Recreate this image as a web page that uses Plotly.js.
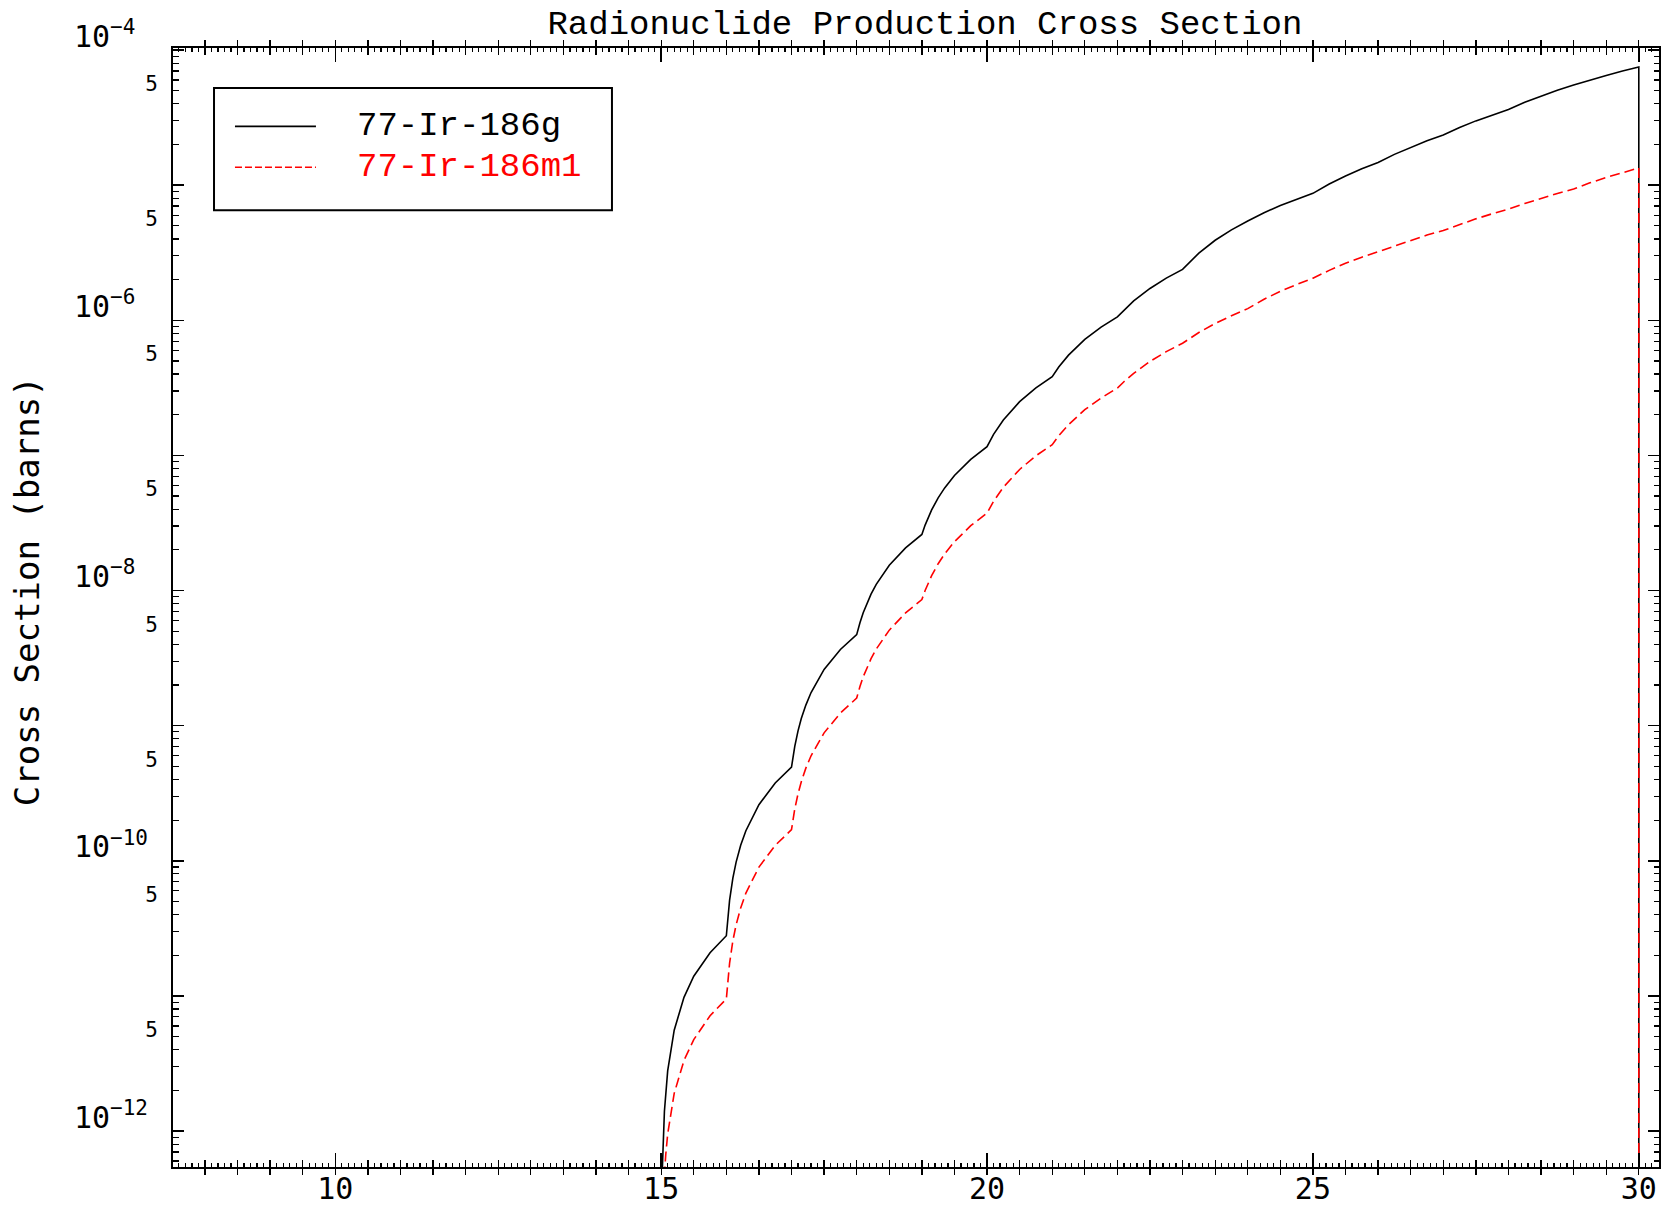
<!DOCTYPE html>
<html>
<head>
<meta charset="utf-8">
<script src="https://cdn.plot.ly/plotly-3.0.1.min.js"></script>
<style>
  html, body { margin: 0; padding: 0; background: #ffffff; }
  #chart { width: 1663px; height: 1209px; }
</style>
</head>
<body>
<div id="chart"></div>
<script>
// ---------------- data ----------------
const chartTitle = "Radionuclide Production Cross Section";
const yTitle = "Cross Section (barns)";
const seriesNames = ["77-Ir-186g", "77-Ir-186m1"];

// ground state 77-Ir-186g : energy (MeV) and cross section (barns)
const groundEnergy = [15, 15.02, 15.05, 15.1, 15.2, 15.35, 15.5, 15.75,
  16, 16.02, 16.05, 16.1, 16.15, 16.22, 16.3, 16.5, 16.75,
  17, 17.02, 17.05, 17.1, 17.15, 17.22, 17.3, 17.5, 17.75,
  18, 18.02, 18.05, 18.1, 18.15, 18.22, 18.3, 18.5, 18.75,
  19, 19.05, 19.1, 19.15, 19.25, 19.35, 19.5, 19.75,
  20, 20.1, 20.25, 20.5, 20.75,
  21, 21.1, 21.25, 21.5, 21.75,
  22, 22.1, 22.25, 22.5, 22.75,
  23, 23.25, 23.5, 23.75,
  24, 24.25, 24.5, 24.75,
  25, 25.25, 25.5, 25.75,
  26, 26.25, 26.5, 26.75,
  27, 27.25, 27.5, 27.75,
  28, 28.25, 28.5, 28.75,
  29, 29.25, 29.5, 29.75,
  30, 30];
const groundXS = [1e-15, 5.6e-13, 1.4e-12, 2.79e-12, 5.58e-12, 9.77e-12, 1.40e-11, 2.09e-11,
  2.79e-11, 3.72e-11, 5.12e-11, 7.44e-11, 9.77e-11, 1.302e-10, 1.67e-10, 2.60e-10, 3.77e-10,
  4.93e-10, 5.78e-10, 7.04e-10, 9.16e-10, 1.13e-9, 1.42e-9, 1.76e-9, 2.61e-9, 3.66e-9,
  4.72e-9, 5.15e-9, 5.78e-9, 6.85e-9, 7.91e-9, 9.40e-9, 1.11e-8, 1.54e-8, 2.07e-8,
  2.6e-8, 3.05e-8, 3.5e-8, 3.95e-8, 4.85e-8, 5.75e-8, 7.1e-8, 9.35e-8,
  1.16e-7, 1.43e-7, 1.83e-7, 2.50e-7, 3.16e-7,
  3.83e-7, 4.51e-7, 5.52e-7, 7.22e-7, 8.91e-7,
  1.06e-6, 1.19e-6, 1.39e-6, 1.72e-6, 2.05e-6,
  2.38e-6, 3.14e-6, 3.91e-6, 4.67e-6,
  5.43e-6, 6.25e-6, 7.07e-6, 7.88e-6,
  8.7e-6, 1.02e-5, 1.17e-5, 1.32e-5,
  1.47e-5, 1.69e-5, 1.91e-5, 2.13e-5,
  2.35e-5, 2.67e-5, 2.99e-5, 3.31e-5,
  3.63e-5, 4.10e-5, 4.57e-5, 5.03e-5,
  5.5e-5, 6.0e-5, 6.49e-5, 6.99e-5,
  7.48e-5, 1e-15];

// metastable state 77-Ir-186m1
const metaEnergy = [15, 15.05, 15.07, 15.1, 15.2, 15.35, 15.5, 15.75,
  16, 16.02, 16.05, 16.1, 16.15, 16.22, 16.3, 16.5, 16.75,
  17, 17.02, 17.05, 17.1, 17.15, 17.22, 17.3, 17.5, 17.75,
  18, 18.02, 18.05, 18.1, 18.15, 18.22, 18.3, 18.5, 18.75,
  19, 19.05, 19.1, 19.15, 19.25, 19.35, 19.5, 19.75,
  20, 20.1, 20.25, 20.5, 20.75,
  21, 21.1, 21.25, 21.5, 21.75,
  22, 22.1, 22.25, 22.5, 22.75,
  23, 23.25, 23.5, 23.75,
  24, 24.25, 24.5, 24.75,
  25, 25.25, 25.5, 25.75,
  26, 26.25, 26.5, 26.75,
  27, 27.25, 27.5, 27.75,
  28, 28.25, 28.5, 28.75,
  29, 29.25, 29.5, 29.75,
  30, 30];
const metaXS = [1e-15, 4.75e-13, 6.65e-13, 9.5e-13, 1.9e-12, 3.33e-12, 4.75e-12, 7.13e-12,
  9.5e-12, 1.27e-11, 1.75e-11, 2.56e-11, 3.36e-11, 4.48e-11, 5.77e-11, 8.98e-11, 1.30e-10,
  1.7e-10, 1.99e-10, 2.42e-10, 3.13e-10, 3.85e-10, 4.85e-10, 5.99e-10, 8.85e-10, 1.24e-9,
  1.6e-9, 1.74e-9, 1.95e-9, 2.30e-9, 2.65e-9, 3.13e-9, 3.69e-9, 5.09e-9, 6.83e-9,
  8.57e-9, 1.0e-8, 1.15e-8, 1.29e-8, 1.58e-8, 1.87e-8, 2.30e-8, 3.02e-8,
  3.74e-8, 4.57e-8, 5.81e-8, 7.87e-8, 9.94e-8,
  1.2e-7, 1.40e-7, 1.69e-7, 2.18e-7, 2.66e-7,
  3.15e-7, 3.51e-7, 4.05e-7, 4.96e-7, 5.86e-7,
  6.76e-7, 8.12e-7, 9.48e-7, 1.08e-6,
  1.22e-6, 1.43e-6, 1.64e-6, 1.84e-6,
  2.05e-6, 2.34e-6, 2.64e-6, 2.93e-6,
  3.22e-6, 3.57e-6, 3.92e-6, 4.27e-6,
  4.62e-6, 5.13e-6, 5.63e-6, 6.14e-6,
  6.64e-6, 7.32e-6, 8.0e-6, 8.67e-6,
  9.35e-6, 1.04e-5, 1.14e-5, 1.24e-5,
  1.34e-5, 1e-15];

// axis ticks
const xTickVals = [10, 15, 20, 25, 30];
const xTickText = ["10", "15", "20", "25", "30"];
const yLabelVals = [1e-4, 1e-6, 1e-8, 1e-10, 1e-12];
const yLabelText = ["10<sup>\u22124\u00a0</sup>", "10<sup>\u22126\u00a0</sup>", "10<sup>\u22128\u00a0</sup>",
                    "10<sup>\u221210</sup>", "10<sup>\u221212</sup>"];
const yOddDecadeVals = [1e-5, 1e-7, 1e-9, 1e-11];
const yFiveVals = [5e-5, 5e-6, 5e-7, 5e-8, 5e-9, 5e-10, 5e-11, 5e-12];
const yFiveText = ["5", "5", "5", "5", "5", "5", "5", "5"];

// ---------------- figure ----------------
const xRange = [7.51, 30.31];
const yRange = [-12.266, -3.985];

// minor log ticks 2..9 per decade (tick positions only)
const yMinorVals = [];
for (let e = -13; e <= -4; e++) {
  for (let k = 2; k <= 9; k++) yMinorVals.push(k * Math.pow(10, e));
}

const monoSans = "DejaVu Sans Mono, monospace";
const monoSerif = "Liberation Mono, Courier New, monospace";

const traces = [
  {
    x: groundEnergy, y: groundXS, type: "scatter", mode: "lines",
    name: seriesNames[0], showlegend: false,
    line: { color: "#000000", width: 1.6 }
  },
  {
    x: metaEnergy, y: metaXS, type: "scatter", mode: "lines",
    name: seriesNames[1], showlegend: false,
    line: { color: "#ff0000", width: 1.6, dash: "10px,5px" }
  },
  // empty helper traces so the overlay axes (extra ticks / "5" labels) are drawn
  { x: [], y: [], type: "scatter", mode: "lines", xaxis: "x2", yaxis: "y2", showlegend: false, hoverinfo: "skip" },
  { x: [], y: [], type: "scatter", mode: "lines", xaxis: "x2", yaxis: "y3", showlegend: false, hoverinfo: "skip" }
];

// legend geometry in paper coordinates
const legendBox = { x0: 0.0276, x1: 0.2954, y0: 0.855, y1: 0.9643 };
const legendRows = [0.9300, 0.8934];
const legendLineX = [0.0417, 0.0962];
const legendTextX = 0.1225;
const legendColors = ["#000000", "#ff0000"];

const shapes = [
  { type: "rect", xref: "paper", yref: "paper",
    x0: legendBox.x0, x1: legendBox.x1, y0: legendBox.y0, y1: legendBox.y1,
    line: { color: "#000000", width: 2 }, fillcolor: "#ffffff", layer: "above" },
  { type: "line", xref: "paper", yref: "paper",
    x0: legendLineX[0], x1: legendLineX[1], y0: legendRows[0], y1: legendRows[0],
    line: { color: legendColors[0], width: 1.6 }, layer: "above" },
  { type: "line", xref: "paper", yref: "paper",
    x0: legendLineX[0], x1: legendLineX[1], y0: legendRows[1], y1: legendRows[1],
    line: { color: legendColors[1], width: 1.6, dash: "7px,3px" }, layer: "above" }
];

const annotations = seriesNames.map((nm, i) => ({
  xref: "paper", yref: "paper", x: legendTextX, y: legendRows[i],
  xanchor: "left", yanchor: "middle", showarrow: false,
  text: nm, font: { family: monoSerif, size: 34, color: legendColors[i] }
}));
// y axis title (placed like the reference, slightly above the axis middle)
annotations.push({
  xref: "paper", yref: "paper", x: -0.0983, y: 0.5145,
  xanchor: "center", yanchor: "middle", showarrow: false, textangle: -90,
  text: yTitle, font: { family: monoSans, size: 34, color: "#000000" }
});

const layout = {
  width: 1663, height: 1209,
  margin: { l: 173, r: 4, t: 48, b: 42, pad: 0 },
  paper_bgcolor: "#ffffff", plot_bgcolor: "#ffffff",
  showlegend: false,
  hovermode: false,
  title: {
    text: chartTitle,
    font: { family: monoSerif, size: 34, color: "#000000" },
    xref: "paper", x: 0.506, xanchor: "center",
    yref: "container", y: 0.982, yanchor: "middle"
  },
  xaxis: {
    type: "linear", range: xRange, autorange: false,
    showline: true, linecolor: "#000000", linewidth: 2, mirror: "allticks",
    showgrid: false, zeroline: false,
    tickmode: "array", tickvals: xTickVals, ticktext: xTickText,
    ticks: "inside", ticklen: 14, tickwidth: 1.5, tickcolor: "#000000",
    ticklabelstandoff: -6,
    tickfont: { family: monoSans, size: 30, color: "#000000" },
    minor: { ticks: "inside", tick0: 0, dtick: 0.1, ticklen: 4, tickwidth: 1.2, tickcolor: "#000000", showgrid: false }
  },
  xaxis2: {
    type: "linear", range: xRange, autorange: false,
    overlaying: "x", anchor: "y2", side: "bottom",
    showline: false, showgrid: false, zeroline: false, mirror: "allticks",
    tickmode: "linear", tick0: 0, dtick: 0.5,
    ticks: "inside", ticklen: 7, tickwidth: 1.3, tickcolor: "#000000",
    showticklabels: false
  },
  yaxis: {
    type: "log", range: yRange, autorange: false,
    showline: true, linecolor: "#000000", linewidth: 2, mirror: "allticks",
    showgrid: false, zeroline: false,
    tickmode: "array", tickvals: yLabelVals, ticktext: yLabelText,
    ticks: "inside", ticklen: 11, tickwidth: 1.5, tickcolor: "#000000",
    ticklabelstandoff: 17, ticklabelshift: -14,
    tickfont: { family: monoSans, size: 30, color: "#000000" },
    minor: { ticks: "inside", tickmode: "array", tickvals: yMinorVals, ticklen: 5.5, tickwidth: 1.2, tickcolor: "#000000", showgrid: false }
  },
  yaxis2: {
    type: "log", range: yRange, autorange: false,
    overlaying: "y", anchor: "x2", side: "left",
    showline: false, showgrid: false, zeroline: false,
    tickmode: "array", tickvals: yFiveVals, ticktext: yFiveText,
    ticks: "", ticklabelstandoff: 14, ticklabelshift: -7,
    tickfont: { family: monoSans, size: 21, color: "#000000" }
  },
  yaxis3: {
    type: "log", range: yRange, autorange: false,
    overlaying: "y", anchor: "x2", side: "left",
    showline: false, showgrid: false, zeroline: false, mirror: "allticks",
    tickmode: "array", tickvals: yOddDecadeVals,
    ticks: "inside", ticklen: 11, tickwidth: 1.5, tickcolor: "#000000",
    showticklabels: false
  },
  shapes: shapes,
  annotations: annotations
};

Plotly.newPlot("chart", traces, layout, { staticPlot: true, displayModeBar: false });
</script>
</body>
</html>
